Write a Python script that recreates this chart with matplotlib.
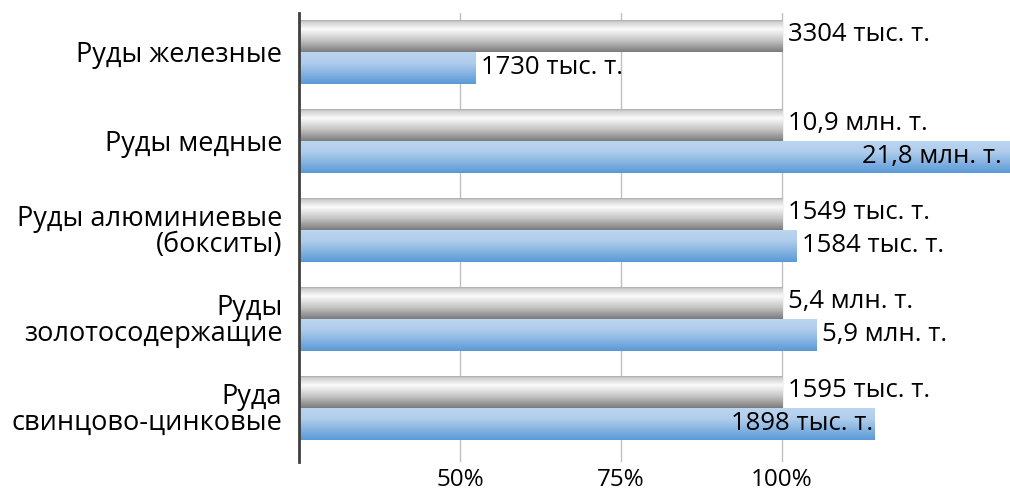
import numpy as np
import matplotlib
matplotlib.use("Agg")
import matplotlib.pyplot as plt

plt.rcParams['font.family'] = ['Open Sans', 'DejaVu Sans']

categories = ['Руды железные', 'Руды медные', 'Руды алюминиевые\n(бокситы)',
              'Руды\nзолотосодержащие', 'Руда\nсвинцово-цинковые']
# percent of the grey (reference) series
grey_vals = [100, 100, 100, 100, 100]
blue_vals = [52.4, 200, 102.3, 105.4, 114.4]
grey_labels = ['3304 тыс. т.', '10,9 млн. т.', '1549 тыс. т.', '5,4 млн. т.', '1595 тыс. т.']
blue_labels = ['1730 тыс. т.', '21,8 млн. т.', '1584 тыс. т.', '5,9 млн. т.', '1898 тыс. т.']
xticks = [50, 75, 100]
xlim = (25, 135.4)

fig = plt.figure(figsize=(10.1, 4.92), dpi=100)
ax = fig.add_axes([0.296, 0.061, 0.704, 0.913])

y = np.arange(len(categories))
h = 0.36
base = xlim[0]

grey_bars = ax.barh(y - h / 2, np.array(grey_vals) - base, h, left=base,
                    color='#a0a0a0', zorder=2)
blue_bars = ax.barh(y + h / 2, np.array(blue_vals) - base, h, left=base,
                    color='#7aaee0', zorder=2)


def shade(bars, colors):
    cmap = matplotlib.colors.LinearSegmentedColormap.from_list('g', colors)
    grad = np.linspace(0, 1, 64).reshape(-1, 1)
    for b in bars:
        x0, y0 = b.get_x(), b.get_y()
        w, hh = b.get_width(), b.get_height()
        im = ax.imshow(grad, cmap=cmap, aspect='auto', zorder=3,
                       extent=(x0, x0 + w, y0 + hh, y0), origin='upper')
        im.set_clip_path(b)


shade(grey_bars, [(0, '#9a9a9a'), (0.08, '#cfcfcf'), (0.3, '#fbfbfb'),
                  (0.65, '#c4c4c4'), (1, '#7c7c7c')])
shade(blue_bars, [(0, '#bcd6f0'), (0.35, '#b0cdec'), (1, '#5b9ad6')])

ax.set_xlim(*xlim)
ax.set_ylim(len(categories) - 1 + 0.61, -0.44)

fs = 18.5
for i, b in enumerate(grey_bars):
    ax.annotate(grey_labels[i], (b.get_x() + b.get_width(), b.get_y() + b.get_height() / 2),
                xytext=(4, 1), textcoords='offset points', va='center', ha='left',
                fontsize=fs, zorder=5)
for i, b in enumerate(blue_bars):
    v = b.get_x() + b.get_width()
    yc = b.get_y() + b.get_height() / 2
    if v >= xlim[1]:
        ax.annotate(blue_labels[i], (xlim[1], yc), xytext=(-6, 0),
                    textcoords='offset points', va='center', ha='right',
                    fontsize=fs, zorder=5)
    elif v > 110:
        ax.annotate(blue_labels[i], (v, yc), xytext=(-1, 0),
                    textcoords='offset points', va='center', ha='right',
                    fontsize=fs, zorder=5)
    else:
        ax.annotate(blue_labels[i], (v, yc), xytext=(4, 0),
                    textcoords='offset points', va='center', ha='left',
                    fontsize=fs, zorder=5)

ax.set_yticks(y)
ax.set_yticklabels(categories, fontsize=19.5, linespacing=0.9, ha='right')
ax.tick_params(axis='y', length=0, pad=12)
ax.set_xticks(xticks)
ax.set_xticklabels([f'{t}%' for t in xticks], fontsize=17.5)
ax.tick_params(axis='x', length=0, pad=4)
ax.grid(axis='x', color='#c0c0c0', linewidth=1, zorder=0)

for s in ['top', 'right', 'bottom']:
    ax.spines[s].set_visible(False)
ax.spines['left'].set_color('#404040')
ax.spines['left'].set_linewidth(2)
ax.spines['left'].set_zorder(6)

fig.savefig('out.png', dpi=100)
